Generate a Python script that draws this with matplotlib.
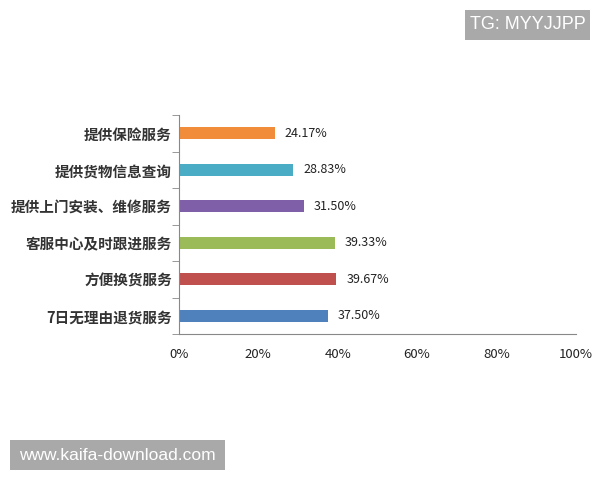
import numpy as np
import matplotlib.pyplot as plt
from matplotlib.patches import Rectangle
from matplotlib.ticker import FixedLocator

plt.rcParams['font.family'] = ['Noto Sans CJK SC', 'DejaVu Sans']

# data, top to bottom as in the picture
services = ["提供保险服务", "提供货物信息查询", "提供上门安装、维修服务",
            "客服中心及时跟进服务", "方便换货服务", "7日无理由退货服务"]
shares = [24.17, 28.83, 31.50, 39.33, 39.67, 37.50]
colors = ["#F08C3A", "#4BACC6", "#7F5FA8", "#9BBB59", "#C0504D", "#4F81BD"]
xticks = [0, 20, 40, 60, 80, 100]

fig = plt.figure(figsize=(6, 4.8), dpi=100)
ax = fig.add_axes([0.298, 0.304, 0.662, 0.456])

ypos = np.arange(len(services))[::-1]
ax.barh(ypos, shares, height=0.33, color=colors)
for y, v in zip(ypos, shares):
    ax.text(v + 2.5, y, "%.2f%%" % v, va="center", ha="left", fontsize=9, color="#222222")

ax.set_xlim(0, 100)
ax.set_ylim(-0.5, len(services) - 0.5)
ax.set_xticks(xticks)
ax.set_xticklabels(["%d%%" % t for t in xticks], fontsize=9.5)
ax.tick_params(axis="x", length=0, pad=10, colors="#222222")
ax.set_yticks(ypos)
ax.set_yticklabels(services, fontsize=10.5, fontweight="bold", color="#333333")
ax.tick_params(axis="y", which="major", length=0, pad=5)
ax.yaxis.set_minor_locator(FixedLocator(np.arange(-0.5, len(services), 1.0)))
ax.tick_params(axis="y", which="minor", length=5, color="#888888", direction="out")

for s in ["top", "right"]:
    ax.spines[s].set_visible(False)
ax.spines["left"].set_color("#888888")
ax.spines["bottom"].set_color("#888888")

# watermarks
fig.patches.append(Rectangle((0.775, 0.9167), 0.2083, 0.0625, transform=fig.transFigure,
                             facecolor="#a9a9a9", edgecolor="none"))
fig.text(0.775 + 0.2083 / 2, 0.9167 + 0.0625 / 2, "TG: MYYJJPP", ha="center", va="center",
         fontsize=13, color="white", family="Liberation Sans")
fig.patches.append(Rectangle((0.0167, 0.0208), 0.3583, 0.0625, transform=fig.transFigure,
                             facecolor="#a9a9a9", edgecolor="none"))
fig.text(0.0167 + 0.3583 / 2, 0.0208 + 0.0625 / 2, "www.kaifa-download.com", ha="center",
         va="center", fontsize=12.5, color="white", family="Liberation Sans")

fig.savefig("out.png", dpi=100)
